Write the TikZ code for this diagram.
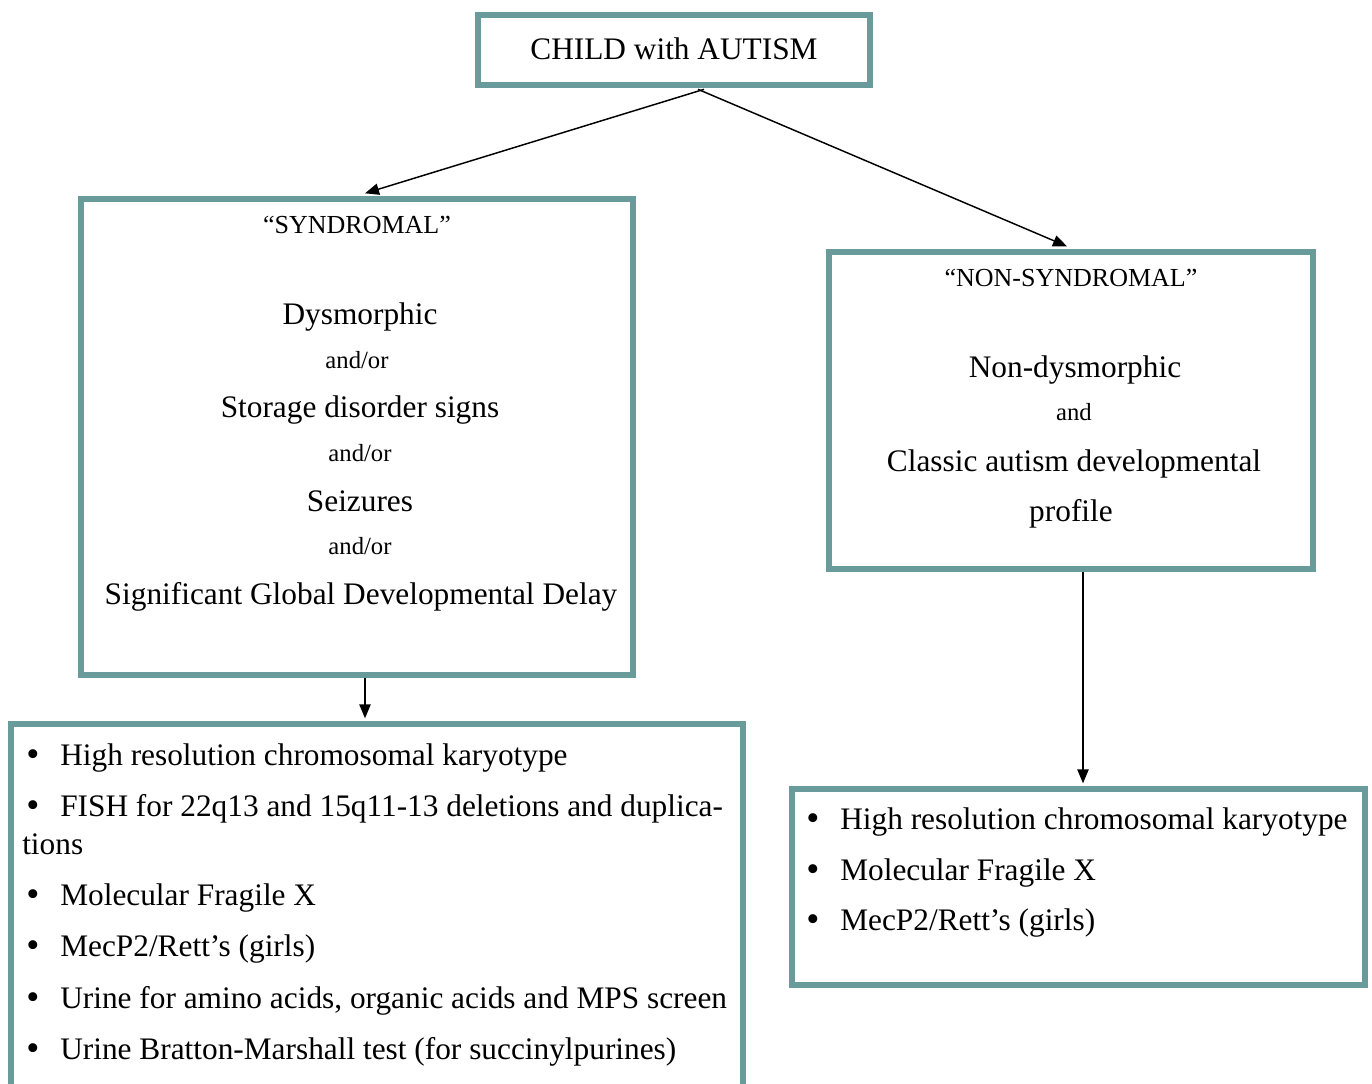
\documentclass[tikz,border=0pt]{standalone}
\usepackage{fontspec}
\setmainfont{Liberation Serif}
\usetikzlibrary{fit,arrows.meta,calc}
\definecolor{tealbox}{RGB}{104,155,153}
\begin{document}
\begin{tikzpicture}[x=0.75pt,y=-0.75pt,
 box/.style={draw=tealbox, line width=4.5pt, inner sep=0pt},
 arr/.style={line width=1.1pt, -{Triangle[length=10.5pt,width=8.5pt]}},
 main/.style={font=\fontsize{23.5}{27}\selectfont, inner sep=0pt, anchor=base},
 mainl/.style={font=\fontsize{23.5}{27}\selectfont, inner sep=0pt, anchor=base west},
 small/.style={font=\fontsize{18.5}{22}\selectfont, inner sep=0pt, anchor=base},
 ttl/.style={font=\fontsize{19.5}{23}\selectfont, inner sep=0pt, anchor=base},
 bul/.style={font=\fontsize{28}{30}\selectfont, inner sep=0pt, anchor=base},
]
\clip (0,0) rectangle (1372,1084);
\fill[white] (0,0) rectangle (1372,1084);
% boxes
\node[box, fit={(478,15) (870,85)}] (top) {};
\node[box, fit={(81,199) (633,675)}] (synd) {};
\node[box, fit={(829,252) (1313,569)}] (nons) {};
\node[box, fit={(11,724) (743,1100)}] (lbot) {};
\node[box, fit={(792,789) (1365,985)}] (rbot) {};
% top text
\node[main] (ttop) at (674,60) {CHILD with AUTISM};
% syndromal text
\node[ttl] (s0) at (357,234) {“SYNDROMAL”};
\node[main] (s1) at (360,325) {Dysmorphic};
\node[small] (s2) at (357,369) {and/or};
\node[main] (s3) at (360,418) {Storage disorder signs};
\node[small] (s4) at (360,461) {and/or};
\node[main] (s5) at (360,511) {Seizures};
\node[small] (s6) at (360,554) {and/or};
\node[main] (s7) at (361,604) {Significant Global Developmental Delay};
% non-syndromal text
\node[ttl] (n0) at (1071,287) {“NON-SYNDROMAL”};
\node[main] (n1) at (1075,378) {Non-dysmorphic};
\node[small] (n2) at (1074,421) {and};
\node[main] (n3) at (1074,471) {Classic autism developmental};
\node[main] (n4) at (1071,522) {profile};
% left bottom list
\node[bul] (lb1) at (33,766) {•};
\node[mainl] (lt1) at (60,765) {High resolution chromosomal karyotype};
\node[bul] (lb2) at (33,817) {•};
\node[mainl] (lt2) at (60,816) {FISH for 22q13 and 15q11-13 deletions and duplica-};
\node[mainl] (lt2b) at (22,854) {tions};
\node[bul] (lb3) at (33,906) {•};
\node[mainl] (lt3) at (60,905) {Molecular Fragile X};
\node[bul] (lb4) at (33,957) {•};
\node[mainl] (lt4) at (60,956) {MecP2/Rett’s (girls)};
\node[bul] (lb5) at (33,1009) {•};
\node[mainl] (lt5) at (60,1008) {Urine for amino acids, organic acids and MPS screen};
\node[bul] (lb6) at (33,1060) {•};
\node[mainl] (lt6) at (60,1059) {Urine Bratton-Marshall test (for succinylpurines)};
% right bottom list
\node[bul] (rb1) at (813,830) {•};
\node[mainl] (rt1) at (840,829) {High resolution chromosomal karyotype};
\node[bul] (rb2) at (813,881) {•};
\node[mainl] (rt2) at (840,880) {Molecular Fragile X};
\node[bul] (rb3) at (813,931) {•};
\node[mainl] (rt3) at (840,930) {MecP2/Rett’s (girls)};
% arrows
\draw[arr] ([xshift=22.5pt,yshift=-1pt]top.south) -- ([xshift=6pt,yshift=2pt]synd.north);
\draw[arr] ([xshift=18pt,yshift=-1pt]top.south) -- ([xshift=-3pt,yshift=2pt]nons.north);
\draw[arr] ([xshift=6pt]synd.south) -- ([xshift=6pt,yshift=2pt]synd.south |- lbot.north);
\draw[arr] ([xshift=9pt]nons.south) -- ([xshift=9pt,yshift=2pt]nons.south |- rbot.north);
\end{tikzpicture}
\end{document}
